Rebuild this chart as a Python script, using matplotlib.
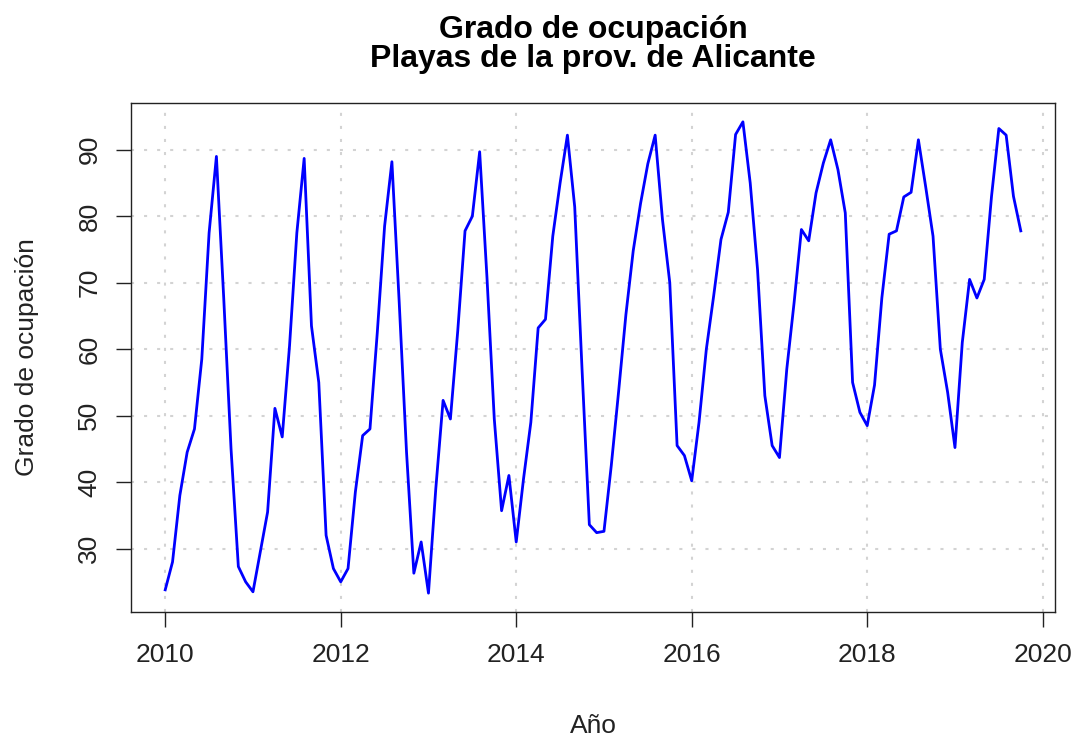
import numpy as np
import matplotlib.pyplot as plt

# Grado de ocupacion mensual (ene 2010 - oct 2019)
y2010 = [23.8, 28.0, 38.0, 44.5, 48.0, 58.5, 77.5, 89.0, 67.7, 45.0, 27.3, 25.0]
y2011 = [23.5, 29.5, 35.5, 51.1, 46.8, 60.5, 77.5, 88.7, 63.5, 55.0, 32.0, 27.0]
y2012 = [25.0, 27.0, 38.5, 47.0, 48.0, 62.5, 78.5, 88.2, 67.0, 44.5, 26.3, 31.0]
y2013 = [23.3, 39.0, 52.3, 49.5, 62.7, 77.8, 80.0, 89.7, 70.8, 49.5, 35.7, 41.0]
y2014 = [31.0, 40.5, 49.0, 63.2, 64.5, 77.0, 85.0, 92.2, 81.4, 57.0, 33.6, 32.4]
y2015 = [32.6, 42.5, 53.6, 65.2, 74.8, 81.9, 87.9, 92.2, 79.5, 70.0, 45.5, 44.0]
y2016 = [40.2, 49.0, 60.0, 68.0, 76.5, 80.6, 92.3, 94.2, 85.0, 72.0, 53.0, 45.5]
y2017 = [43.7, 57.0, 67.0, 78.0, 76.3, 83.5, 88.0, 91.5, 87.0, 80.5, 55.0, 50.5]
y2018 = [48.5, 54.6, 67.7, 77.3, 77.8, 82.9, 83.6, 91.5, 84.4, 77.0, 60.0, 53.5]
y2019 = [45.2, 61.0, 70.5, 67.7, 70.5, 83.0, 93.2, 92.2, 83.0, 77.8]

ocupacion = np.array(y2010 + y2011 + y2012 + y2013 + y2014 +
                     y2015 + y2016 + y2017 + y2018 + y2019)
tiempo = 2010 + np.arange(len(ocupacion)) / 12

x_ticks = [2010, 2012, 2014, 2016, 2018, 2020]
y_ticks = [30, 40, 50, 60, 70, 80, 90]

plt.rcParams['font.family'] = ['Liberation Sans', 'DejaVu Sans']
plt.rcParams['lines.scale_dashes'] = False

fig = plt.figure(figsize=(10.76, 7.4), dpi=100)
ax = fig.add_axes([131 / 1076, 1 - 612 / 740, 924 / 1076, 509 / 740])

ax.plot(tiempo, ocupacion, color='blue', lw=2)

# rango al estilo R (4% de margen)
dx = (tiempo.max() - tiempo.min()) * 0.04
dy = (ocupacion.max() - ocupacion.min()) * 0.04
ax.set_xlim(tiempo.min() - dx, tiempo.max() + dx)
ax.set_ylim(ocupacion.min() - dy, ocupacion.max() + dy)

ax.set_xticks(x_ticks)
ax.set_yticks(y_ticks)
ax.grid(color='lightgray', linestyle=(0, (2.2, 7.2)), linewidth=1.5)
ax.set_axisbelow(True)

ax.tick_params(direction='out', length=10.8, width=1, labelsize=19, colors='#222222')
ax.tick_params(axis='x', pad=11.5)
ax.tick_params(axis='y', pad=10.5)
for lab in ax.get_yticklabels():
    lab.set_rotation(90)
    lab.set_va('center')

for s in ax.spines.values():
    s.set_color('#222222')
    s.set_linewidth(1)

ax.set_title('Grado de ocupación\nPlayas de la prov. de Alicante',
             fontsize=23, fontweight='bold', linespacing=0.95, pad=26)
ax.set_xlabel('Año', fontsize=19, color='#222222')
ax.set_ylabel('Grado de ocupación', fontsize=19, color='#222222')
ax.xaxis.set_label_coords(0.5, (612 - 714) / 509)
ax.yaxis.set_label_coords((39 - 131) / 924, 0.5)

fig.savefig('out.png', dpi=100)
